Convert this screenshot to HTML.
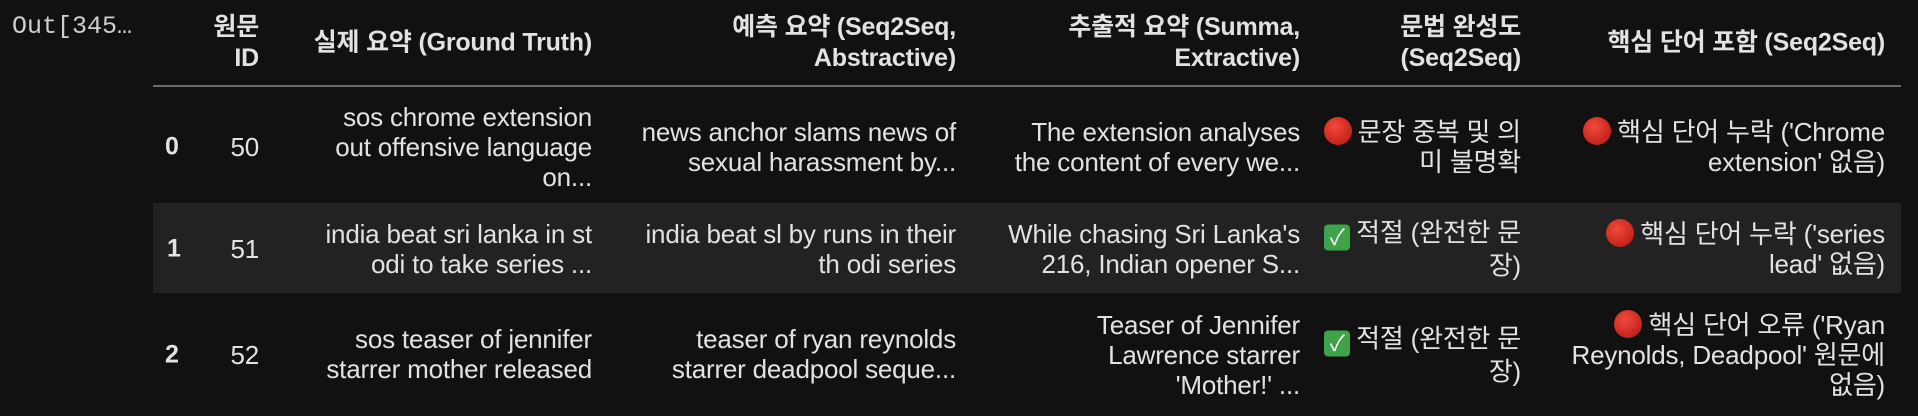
<!DOCTYPE html>
<html><head><meta charset="utf-8"><style>
body{margin:0;width:1918px;height:416px;background:#111111;overflow:hidden;font-family:"Liberation Sans","Noto Sans CJK KR",sans-serif;color:#e2e2e2;}
.abs{position:absolute;}
.c{position:absolute;text-align:right;white-space:nowrap;font-size:26px;line-height:30px;transform:translateY(-50%);letter-spacing:-0.2px;}
.h{font-weight:bold;font-size:25px;line-height:31px;}
.red{display:inline-block;width:28px;height:28px;border-radius:50%;background:radial-gradient(circle at 40% 35%,#f04a3c,#b3140e);vertical-align:-4px;margin-right:6px;}
.chk{display:inline-block;width:26px;height:26px;border-radius:4px;background:#3fa34a;color:#fff;font-size:22px;line-height:26px;text-align:center;vertical-align:-3px;margin-right:6px;}
</style></head><body>
<div class="abs" style="left:12px;top:12px;font-family:'Liberation Mono',monospace;font-size:25px;color:#cfcfcf;">Out[345…</div>
<div class="abs" style="left:153px;top:203px;width:1748px;height:90px;background:#222222;"></div>
<div class="abs" style="left:153px;top:85px;width:1748px;height:2px;background:#6a6a6a;"></div>
<div>
<div class="c h" style="right:1659px;top:43px;">원문<br>ID</div>
<div class="c h" style="right:1326px;top:43px;">실제 요약 (Ground Truth)</div>
<div class="c h" style="right:962px;top:43px;">예측 요약 (Seq2Seq,<br>Abstractive)</div>
<div class="c h" style="right:618px;top:43px;">추출적 요약 (Summa,<br>Extractive)</div>
<div class="c h" style="right:397px;top:43px;">문법 완성도<br>(Seq2Seq)</div>
<div class="c h" style="right:33px;top:43px;">핵심 단어 포함 (Seq2Seq)</div>
</div>
<div>
<div class="c h" style="left:165px;top:147px;">0</div>
<div class="c" style="right:1659px;top:147px;">50</div>
<div class="c" style="right:1326px;top:147px;">sos chrome extension<br>out offensive language<br>on...</div>
<div class="c" style="right:962px;top:147px;">news anchor slams news of<br>sexual harassment by...</div>
<div class="c" style="right:618px;top:147px;">The extension analyses<br>the content of every we...</div>
<div class="c" style="right:397px;top:147px;"><span class="red"></span>문장 중복 및 의<br>미 불명확</div>
<div class="c" style="right:33px;top:147px;"><span class="red"></span>핵심 단어 누락 ('Chrome<br>extension' 없음)</div>
</div>
<div>
<div class="c h" style="left:167px;top:249px;">1</div>
<div class="c" style="right:1659px;top:249px;">51</div>
<div class="c" style="right:1326px;top:249px;">india beat sri lanka in st<br>odi to take series ...</div>
<div class="c" style="right:962px;top:249px;">india beat sl by runs in their<br>th odi series</div>
<div class="c" style="right:618px;top:249px;">While chasing Sri Lanka's<br>216, Indian opener S...</div>
<div class="c" style="right:397px;top:249px;"><span class="chk">✓</span>적절 (완전한 문<br>장)</div>
<div class="c" style="right:33px;top:249px;"><span class="red"></span>핵심 단어 누락 ('series<br>lead' 없음)</div>
</div>
<div>
<div class="c h" style="left:165px;top:355px;">2</div>
<div class="c" style="right:1659px;top:355px;">52</div>
<div class="c" style="right:1326px;top:354px;">sos teaser of jennifer<br>starrer mother released</div>
<div class="c" style="right:962px;top:354px;">teaser of ryan reynolds<br>starrer deadpool seque...</div>
<div class="c" style="right:618px;top:355px;">Teaser of Jennifer<br>Lawrence starrer<br>'Mother!' ...</div>
<div class="c" style="right:397px;top:355px;"><span class="chk">✓</span>적절 (완전한 문<br>장)</div>
<div class="c" style="right:33px;top:355px;"><span class="red"></span>핵심 단어 오류 ('Ryan<br>Reynolds, Deadpool' 원문에<br>없음)</div>
</div>
</body></html>
